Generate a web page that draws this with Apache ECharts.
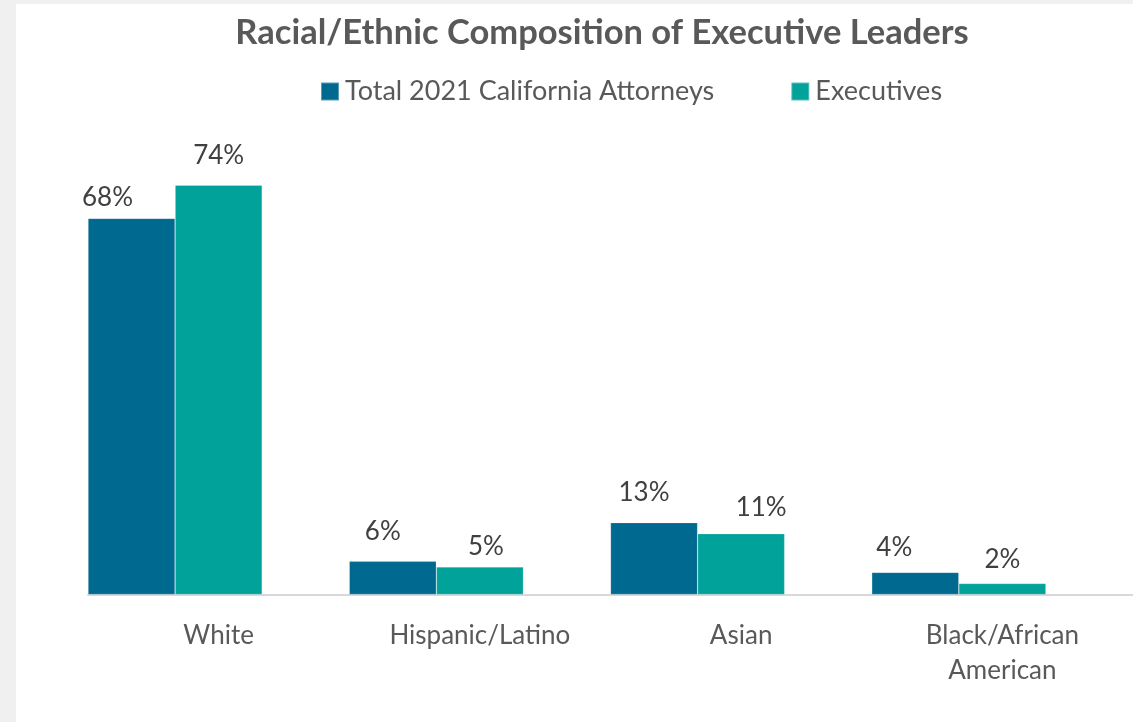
<!DOCTYPE html>
<html>
<head>
<meta charset="utf-8">
<script src="https://cdn.jsdelivr.net/npm/echarts@6/dist/echarts.min.js"></script>
<style>
  html, body { margin: 0; padding: 0; background: #f0f0f0; width: 1133px; height: 722px; overflow: hidden; }
  #panel { position: absolute; left: 16px; top: 4px; right: 0; bottom: 0; background: #ffffff; }
  #chart { position: absolute; left: 0; top: 0; width: 1133px; height: 722px; }
</style>
</head>
<body>
<div id="panel"></div>
<div id="chart"></div>
<script>
// Racial/ethnic shares (%) of all 2021 California attorneys vs. executive leaders
const categories = ['White', 'Hispanic/Latino', 'Asian', 'Black/African\nAmerican'];
const attorneys2021 = [68, 6, 13, 4];
const executives = [74, 5, 11, 2];
const seriesNames = ['Total 2021 California Attorneys', 'Executives'];

// hand-placed nudges for the value labels, [dx, dy] in px
const attorneyLabelNudge = [[-24, 4], [-10, -5], [-10, -5], [-21, 0]];
const executiveLabelNudge = [[0, -5], [6, 5], [20, -1], [0, 1]];

const FONT = 'Lato, "Open Sans", sans-serif';

function withLabels(values, nudges) {
  return values.map((v, i) => ({
    value: v,
    label: { offset: nudges[i] }
  }));
}

const chart = echarts.init(document.getElementById('chart'), null, { renderer: 'canvas' });

const valueLabel = {
  show: true,
  position: 'top',
  distance: 12,
  formatter: '{c}%',
  color: '#404040',
  fontFamily: FONT,
  fontSize: 26
};

chart.setOption({
  backgroundColor: 'transparent',
  animation: false,
  title: {
    text: 'Racial/Ethnic Composition of Executive Leaders',
    left: 597,
    textAlign: 'center',
    top: 10,
    textStyle: { fontFamily: FONT, fontWeight: 'bold', fontSize: 34.5, color: '#595959' }
  },
  legend: {
    data: seriesNames,
    left: 320,
    top: 78,
    padding: 0,
    itemWidth: 18,
    itemHeight: 18,
    itemGap: 76,
    icon: 'rect',
    textStyle: { fontFamily: FONT, fontSize: 27, color: '#595959', padding: [0, 0, 0, 1] }
  },
  grid: { left: 88, right: 0, top: 152, bottom: 127.5, containLabel: false },
  xAxis: {
    type: 'category',
    data: categories,
    axisLine: { show: true, lineStyle: { color: '#d9d9d9', width: 2 } },
    axisTick: { show: false },
    axisLabel: {
      color: '#595959', fontFamily: FONT, fontSize: 26, margin: 24, lineHeight: 35, interval: 0
    }
  },
  yAxis: {
    type: 'value', min: 0, max: 80, show: false, splitLine: { show: false }
  },
  series: [
    {
      name: seriesNames[0], type: 'bar', barGap: '0%', barCategoryGap: '0%',
      itemStyle: { color: '#00698f', borderColor: 'rgba(255,255,255,0.35)', borderWidth: 0.6 },
      label: valueLabel,
      data: withLabels(attorneys2021, attorneyLabelNudge)
    },
    {
      name: seriesNames[1], type: 'bar', barGap: '0%', barCategoryGap: '0%',
      itemStyle: { color: '#00a29a', borderColor: 'rgba(255,255,255,0.35)', borderWidth: 0.6 },
      label: valueLabel,
      data: withLabels(executives, executiveLabelNudge)
    },
    {
      // empty third slot keeps each pair sitting in the left of its band
      name: 'spacer', type: 'bar', barGap: '0%', barCategoryGap: '0%',
      data: categories.map(() => '-'),
      silent: true
    }
  ]
});
</script>
</body>
</html>
